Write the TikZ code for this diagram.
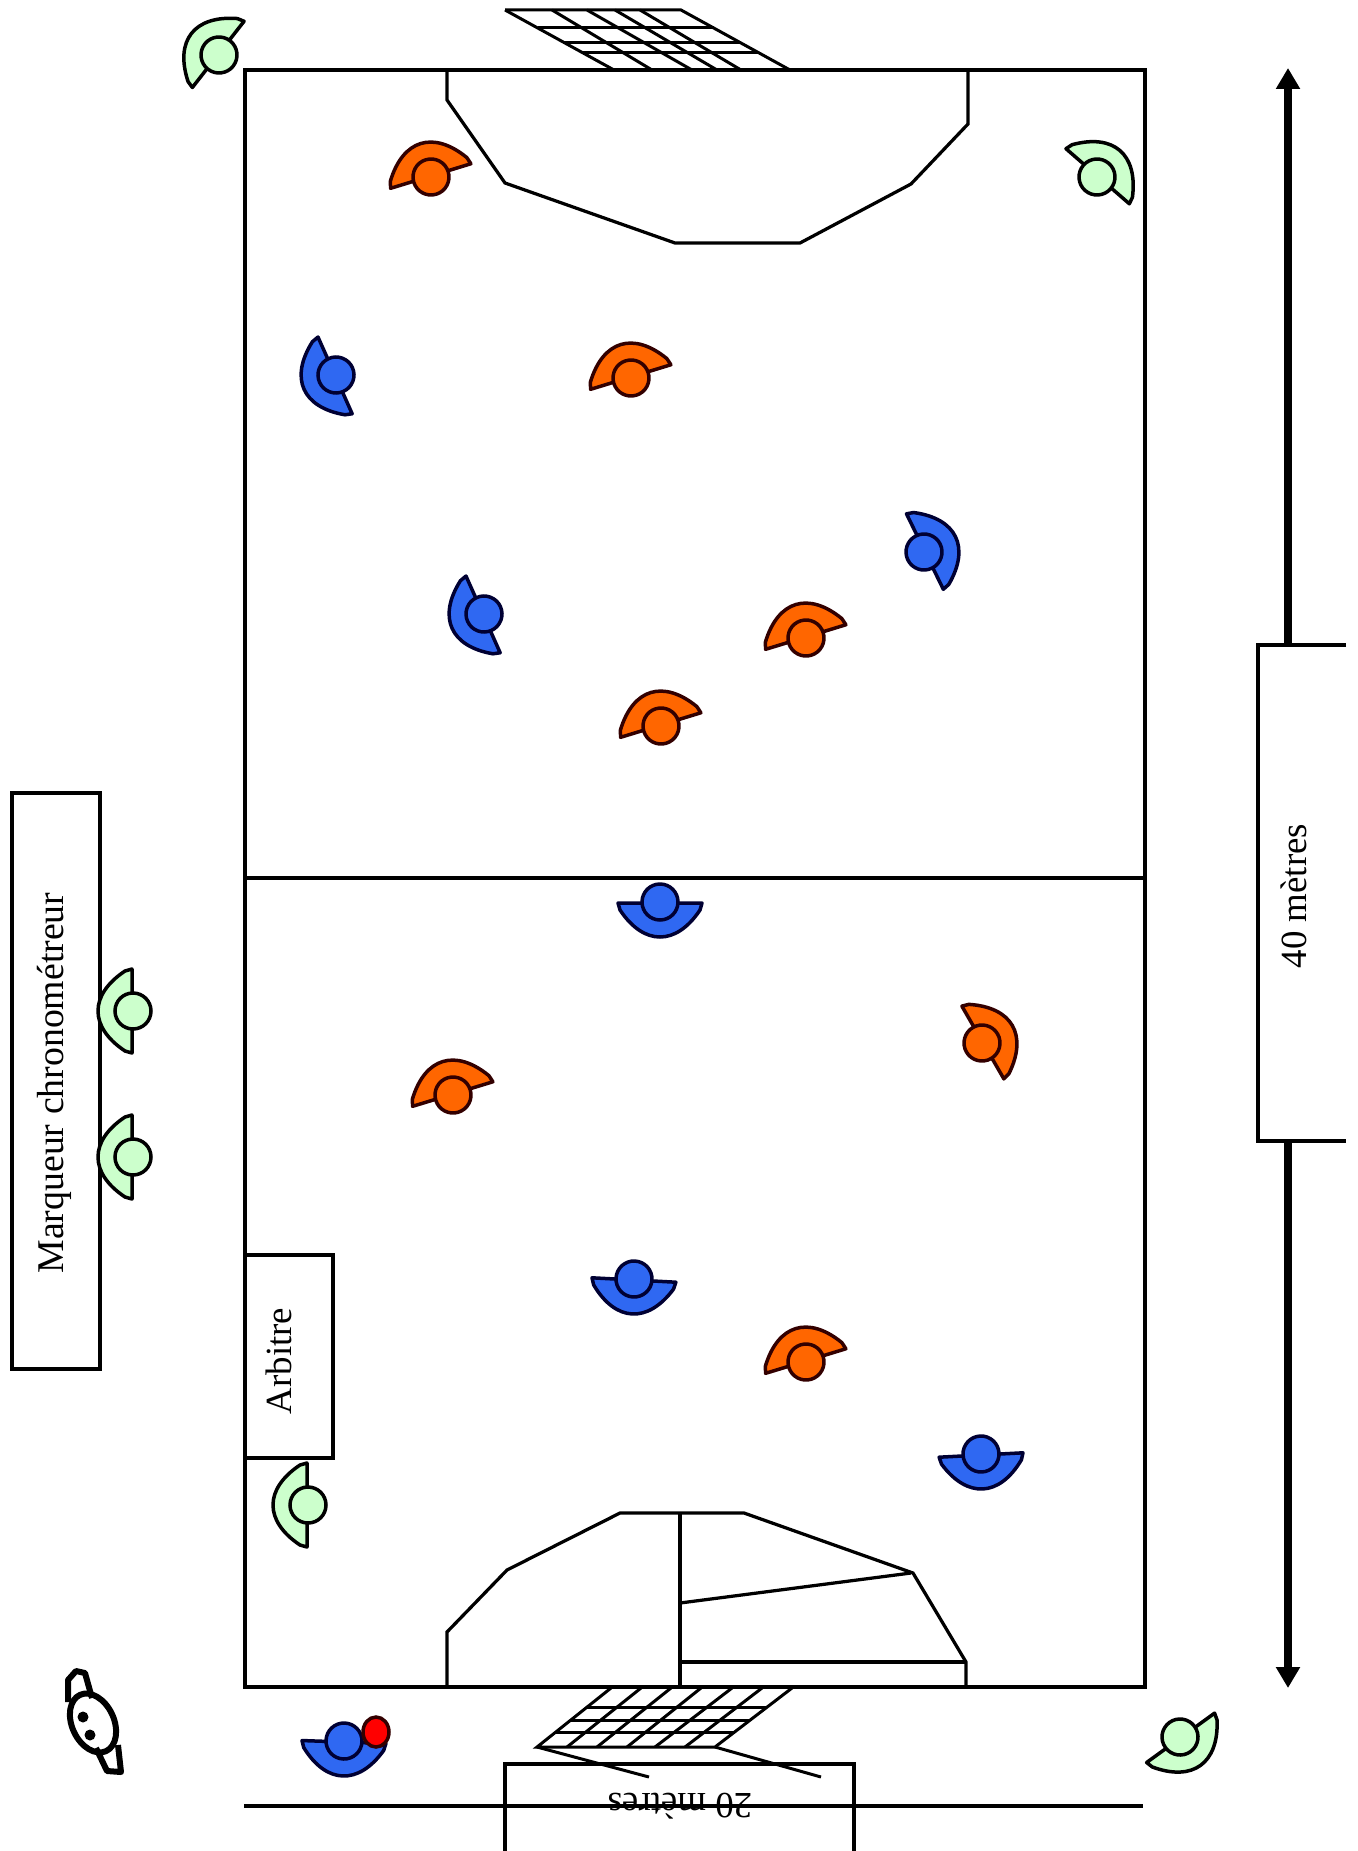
\documentclass[tikz,border=0pt]{standalone}
\usepackage{fontspec}
\setmainfont{Liberation Serif}
\usetikzlibrary{arrows.meta, positioning}
\definecolor{hbblue}{HTML}{2F68F2}
\definecolor{hbnavy}{HTML}{000033}
\definecolor{hborange}{HTML}{FF6600}
\definecolor{hbbrown}{HTML}{330000}
\definecolor{hbgreen}{HTML}{CCFFCC}
\definecolor{hbred}{HTML}{FF0000}
% one player seen from above: centre of head, turn, fill, outline
\newcommand{\joueur}[5]{
  \begin{scope}[shift={(#1,#2)}, rotate=#3]
    \filldraw[fill=#4, draw=#5, line width=.07cm, line join=round]
      (-42,1) -- (-40,8) .. controls (-28,26) and (-14,35) .. (0,35)
      .. controls (14,35) and (28,26) .. (40,8) -- (42,1) -- cycle;
    \filldraw[fill=#4, draw=#5, line width=.07cm] (0,0) circle[radius=.36cm];
  \end{scope}}

\begin{document}
\begin{tikzpicture}[x=.02cm, y=-.02cm,
      ligne/.style={line width=.065cm, black},
      filet/.style={line width=.06cm, black},
      cote/.style={line width=.16cm, black, -{Triangle[length=.42cm, width=.46cm]}},
      boite/.style={draw=black, line width=.065cm, inner sep=0pt},
      legende/.style={font=\fontsize{21pt}{24pt}\selectfont, inner sep=0pt}]
  \useasboundingbox (0,0) rectangle (1357,1851);

  % field and goal areas
  \draw[ligne] (245,70) rectangle (1145,1687);
  \draw[ligne] (245,878) -- (1145,878);
  \draw[ligne] (447,70) -- (447,100) -- (505,183) -- (675,243) -- (800,243)
    -- (911,184) -- (968,124) -- (968,70);
  \draw[ligne] (447,1687) -- (447,1632) -- (507,1570) -- (620,1513) -- (744,1513)
    -- (913,1573) -- (966,1662) -- (966,1687);
  \draw[ligne] (680,1513) -- (680,1687);
  \draw[ligne] (680,1662) -- (966,1662);
  \draw[ligne] (680,1603) -- (911,1573);

  % top goal
  \draw[filet] (505,10) -- (681,10) -- (790,70);
  \draw[filet] (505,10) -- (614,70);
  \draw[filet] (538,28) -- (714,28);
  \draw[filet] (565,43) -- (741,43);
  \draw[filet] (583,53) -- (759,53);
  \foreach \a/\b in {552/652, 587/692, 615/717, 640/741}
    \draw[filet] (\a,10) -- (\b,70);

  % bottom goal
  \draw[filet] (611,1688) -- (537,1747) -- (715,1747) -- (792,1688);
  \draw[filet] (587,1707) -- (767,1707);
  \draw[filet] (571,1720) -- (750,1720);
  \draw[filet] (556,1732) -- (735,1732);
  \foreach \a/\b in {641/567, 671/597, 701/627, 732/655, 762/685}
    \draw[filet] (\a,1688) -- (\b,1747);
  \draw[filet] (537,1747) -- (649,1777);
  \draw[filet] (715,1747) -- (821,1777);

  % width mark below the field
  \draw[ligne] (505,1851) -- (505,1764) -- (854,1764) -- (854,1851);
  \draw[ligne] (244,1806) -- (1143,1806);
  \node[legende, rotate=180] (largeur) at (680,1806) {20 mètres};

  % length mark on the right
  \draw[ligne] (1346,645) -- (1258,645) -- (1258,1141) -- (1346,1141);
  \node[legende, rotate=90] (longueur) at (1294,896) {40 mètres};
  \coordinate (boxhaut) at (1288,645);
  \coordinate (boxbas) at (1288,1141);
  \coordinate (finhaut) at (1288,68);
  \coordinate (finbas) at (1288,1688);
  \draw[cote] (boxhaut) -- (finhaut);
  \draw[cote] (boxbas) -- (finbas);

  % table and referee boxes
  \node[boite, minimum width=1.76cm, minimum height=11.52cm] (marqueur) at (56,1081) {};
  \node[legende, rotate=90, font=\fontsize{21.5pt}{24pt}\selectfont] (marqueurtxt) at (54,1083) {Marqueur chronométreur};
  \node[boite, minimum width=1.76cm, minimum height=4.06cm] (arbitre) at (289,1356.5) {};
  \node[legende, rotate=90] (arbitretxt) at (279,1361) {Arbitre};

  % orange team
  \foreach \x/\y/\t in {431/177/197, 631/378/197, 806/638/197, 661/726/197,
                        453/1095/197, 806/1362/197, 982/1043/120}
    \joueur{\x}{\y}{\t}{hborange}{hbbrown};

  % blue team
  \foreach \x/\y/\t in {336/375/-66, 484/614/-66, 924/552/116, 660/902/0,
                        634/1279/-3, 981/1454/3, 344/1741/-2}
    \joueur{\x}{\y}{\t}{hbblue}{hbnavy};
  \filldraw[fill=hbred, draw=hbbrown, line width=.07cm] (376,1732) ellipse[x radius=13, y radius=15];

  % referees and table officials
  \foreach \x/\y/\t in {219/55/232, 1097/177/139, 133/1011/-90, 133/1157/-90,
                        308/1505/-90, 1180/1737/36}
    \joueur{\x}{\y}{\t}{hbgreen}{black};

  % coach
  \begin{scope}[line width=.12cm, line join=round]
    \draw (68,1702) -- (68,1680) -- (76,1671) -- (85,1673) -- (92,1698);
    \draw (96,1748) -- (107,1771) -- (121,1772) -- (118,1745);
    \draw[rotate around={25:(93,1723)}] (93,1723) ellipse[x radius=21, y radius=31];
    \fill (83,1717) circle[radius=.11cm];
    \fill (90,1735) circle[radius=.11cm];
  \end{scope}
\end{tikzpicture}
\end{document}
